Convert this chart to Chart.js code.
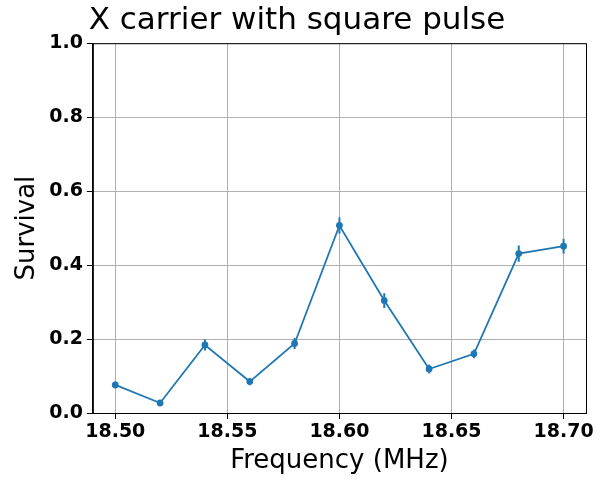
<!DOCTYPE html>
<html><head><script src="https://cdn.jsdelivr.net/npm/chart.js"></script>
<style>body{margin:0;background:#fff}#w{width:606px;height:487px}</style></head>
<body><div id="w"><canvas id="c"></canvas></div>
<script>
const freqs=[18.50,18.52,18.54,18.56,18.58,18.60,18.62,18.64,18.66,18.68,18.70];
const survival=[0.076,0.027,0.184,0.085,0.188,0.507,0.304,0.119,0.16,0.431,0.451];
const errors=[0.009,0.005,0.015,0.01,0.015,0.022,0.02,0.012,0.012,0.022,0.02];
const xTicks=[18.50,18.55,18.60,18.65,18.70];
const color='#1f77b4';
const errPlugin={id:'err',afterDatasetsDraw(ch){const x=ch.scales.x,y=ch.scales.y,c=ch.ctx;c.save();c.strokeStyle=color;c.lineWidth=2;
freqs.forEach((f,i)=>{const px=x.getPixelForValue(f);c.beginPath();c.moveTo(px,y.getPixelForValue(survival[i]-errors[i]));c.lineTo(px,y.getPixelForValue(survival[i]+errors[i]));c.stroke();});
const a=ch.chartArea;c.strokeStyle='#000';c.lineWidth=1;c.strokeRect(a.left+0.5,a.top+0.5,a.right-a.left,a.bottom-a.top);c.restore();}};
new Chart(document.getElementById('c'),{type:'scatter',
data:{datasets:[{data:freqs.map((f,i)=>({x:f,y:survival[i]})),showLine:true,borderColor:color,backgroundColor:color,borderWidth:1.8,pointRadius:2.5,pointHoverRadius:2.5}]},
options:{responsive:true,maintainAspectRatio:false,animation:false,
layout:{padding:{left:8,right:20,top:2,bottom:6}},
plugins:{legend:{display:false},tooltip:{enabled:false},
title:{display:true,text:'X carrier with square pulse',color:'#000',font:{family:'DejaVu Sans',size:31,weight:'normal'},padding:{top:0,bottom:4}}},
scales:{x:{type:'linear',min:18.49,max:18.71,afterBuildTicks:a=>{a.ticks=xTicks.map(v=>({value:v}));},
ticks:{color:'#000',font:{family:'DejaVu Sans',size:19,weight:'bold'},callback:v=>v.toFixed(2),maxRotation:0,padding:2},
grid:{color:'#b0b0b0',tickColor:'#000',tickLength:6},border:{color:'#000'},
title:{display:true,text:'Frequency (MHz)',color:'#000',font:{family:'DejaVu Sans',size:26},padding:{top:0}}},
y:{min:0,max:1,ticks:{stepSize:0.2,color:'#000',font:{family:'DejaVu Sans',size:19,weight:'bold'},callback:v=>v.toFixed(1),padding:4},
grid:{color:'#b0b0b0',tickColor:'#000',tickLength:6},border:{color:'#000'},
title:{display:true,text:'Survival',color:'#000',font:{family:'DejaVu Sans',size:26},padding:{bottom:2}}}}},
plugins:[errPlugin]});
</script></body></html>
